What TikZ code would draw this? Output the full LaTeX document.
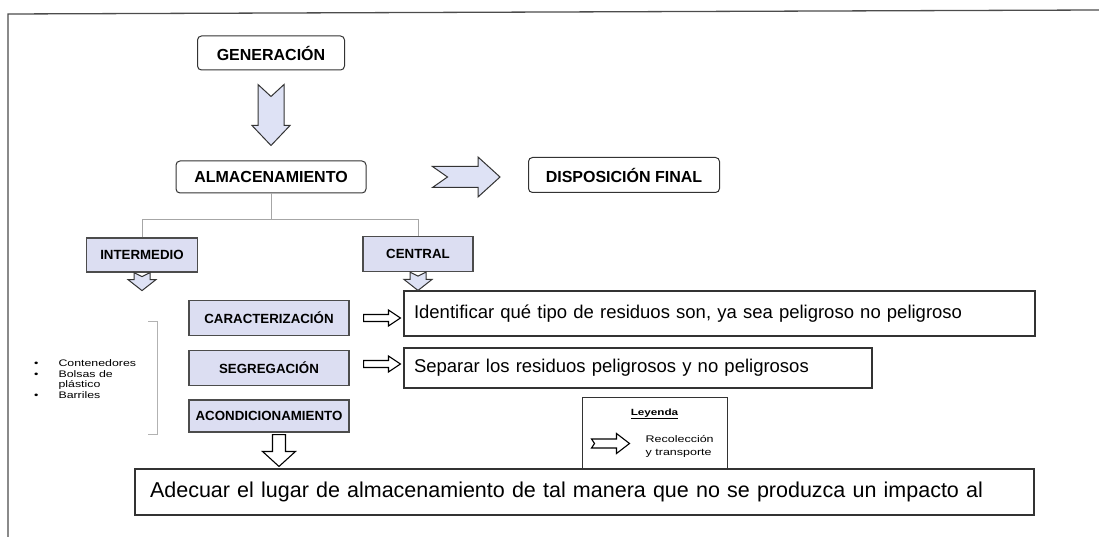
\documentclass[tikz,border=0pt]{standalone}
\usepackage{fontspec}
\setmainfont{Liberation Sans}
\newfontfamily\widesans[FakeStretch=1.3]{Liberation Sans}
\usetikzlibrary{calc}
\usetikzlibrary{positioning}

\definecolor{boxfill}{RGB}{220,222,242}
\definecolor{arrowfill}{RGB}{222,226,245}

% block arrow: style, from, to, shaft half width, head half width, head length, tail notch
\newcommand{\blockarrow}[7]{%
  \coordinate (ba-a) at #2;
  \coordinate (ba-b) at #3;
  \coordinate (ba-p) at ($(ba-b)!#6!(ba-a)$);
  \coordinate (ba-n) at ($(ba-a)!#7!(ba-b)$);
  \draw[#1] (ba-n) -- ($(ba-a)!#4!90:(ba-b)$) -- ($(ba-p)!#4!-90:(ba-a)$)
    -- ($(ba-p)!#5!-90:(ba-a)$) -- (ba-b) -- ($(ba-p)!#5!90:(ba-a)$)
    -- ($(ba-p)!#4!90:(ba-a)$) -- ($(ba-a)!#4!-90:(ba-b)$) -- cycle;
}

\begin{document}
\begin{tikzpicture}
	[x=1pt,y=-1pt,
	roundbox/.style={draw=black!80,line width=1pt,rounded corners=4pt,fill=white,inner sep=0pt,font=\fontsize{16}{19}\selectfont\bfseries},
	tagbox/.style={draw=black!70,line width=1.2pt,fill=boxfill,inner sep=0pt,font=\fontsize{13.3}{16}\selectfont\bfseries},
	notebox/.style={draw=black!80,line width=1.1pt,fill=white,inner xsep=10pt,inner ysep=0pt,align=left,font=\fontsize{18.5}{22}\selectfont},
	bigarrow/.style={draw=black!80,line width=1pt,fill=arrowfill,line join=miter},
	thinarrow/.style={draw=black,line width=1.1pt,fill=white,line join=miter},
	treeline/.style={draw=black!35,line width=0.8pt},
	frameline/.style={draw=black!70,line width=1.3pt},
	bracketline/.style={draw=black!30,line width=0.6pt},
	listtext/.style={inner sep=0pt,font=\widesans\fontsize{9.5}{10.5}\selectfont},
	legendtitle/.style={inner sep=0pt,font=\widesans\fontsize{9}{10}\selectfont\bfseries},
	legendtext/.style={inner sep=0pt,align=left,font=\widesans\fontsize{9.6}{13}\selectfont}]
	\useasboundingbox (0,0) rectangle (1099,537);
	\draw[frameline] (8,537) -- (8,14) -- (1099,10);
	
	\node[roundbox,minimum width=147pt,minimum height=34pt] (gen) at (271,53) {GENERACIÓN};
	\node[roundbox,minimum width=190pt,minimum height=32pt] (alm) at (271,177) {ALMACENAMIENTO};
	\node[roundbox,minimum width=191pt,minimum height=35pt] (disp) at (624,175) {DISPOSICIÓN FINAL};
	
	\node[tagbox,minimum width=111pt,minimum height=34pt] (inter) at (142,255) {INTERMEDIO};
	\node[tagbox,minimum width=110pt,minimum height=35pt] (central) at (418,254) {CENTRAL};
	\node[tagbox,minimum width=160pt,minimum height=35pt] (carac) at (269,318) {CARACTERIZACIÓN};
	\node[tagbox,minimum width=160pt,minimum height=35pt] (segre) at (269,368) {SEGREGACIÓN};
	\node[tagbox,minimum width=160pt,minimum height=32pt] (acond) at (269,416) {ACONDICIONAMIENTO};
	
	\node[notebox,text width=611pt,minimum height=45pt] (ident) at (719.5,313.5) {Identificar qué tipo de residuos son, ya sea peligroso no peligroso};
	\node[notebox,text width=448pt,minimum height=40pt] (separ) at (638,368) {Separar los residuos peligrosos y no peligrosos};
	
	% leyenda
	\node[draw=black!80,line width=1pt,fill=white,minimum width=145pt,minimum height=73pt] (legend) at (654.5,433.5) {};
	\node[legendtitle,below=12pt of legend.north] (legtitle) {\underline{Leyenda}};
	\node[legendtext,anchor=west] (legtext) at ($(legend.west)+(64,13)$) {Recolección\\y transporte};
	\blockarrow{thinarrow}{($(legend.west)+(10,10)$)}{($(legend.west)+(48,10)$)}{4.5pt}{10pt}{13pt}{3pt}
	
	\node[notebox,inner xsep=15pt,text width=869pt,minimum height=46pt,font=\fontsize{21.5}{25}\selectfont] (adec) at (584.5,492) {Adecuar el lugar de almacenamiento de tal manera que no se produzca un impacto al};
	
	\node[listtext,anchor=north west] (list) at (34,359) {%
		\begin{tabular}{@{}l@{\hspace{20pt}}l@{}}
			\textbullet & Contenedores\\
			\textbullet & Bolsas de\\
			& plástico\\
			\textbullet & Barriles
	\end{tabular}};
	\draw[bracketline] (148,321) -- (157,321) -- (157,434) -- (148,434);
	
	% flechas
	\blockarrow{bigarrow}{($(gen.south)+(0,14)$)}{($(alm.north)+(0,-15)$)}{13pt}{19pt}{20pt}{12pt}
	\blockarrow{bigarrow}{($(alm.east)+(66,0)$)}{($(alm.east -| disp.west)+(-28,0)$)}{10.5pt}{20pt}{22pt}{15pt}
	
	\coordinate (fork) at ($(alm.south)+(0,26)$);
	\draw[treeline] (alm.south) -- (fork);
	\draw[treeline] (inter.north) |- (fork) -| (central.north);
	
	\blockarrow{bigarrow}{(inter.south)}{($(inter.south)+(0,18)$)}{8pt}{14pt}{11pt}{4pt}
	\blockarrow{bigarrow}{(central.south)}{(central.south |- ident.north)}{8pt}{14pt}{11pt}{4pt}
	\blockarrow{thinarrow}{($(carac.east)+(14,0)$)}{($(carac.east -| ident.west)+(-3,0)$)}{3.5pt}{8pt}{12pt}{0pt}
	\blockarrow{thinarrow}{($(segre.east)+(14,-4)$)}{($(segre.east -| separ.west)+(-3,-4)$)}{3.5pt}{8pt}{12pt}{0pt}
	\blockarrow{thinarrow}{($(acond.south)+(10,2)$)}{($(acond.south |- adec.north)+(10,-2)$)}{6.5pt}{16.5pt}{15pt}{0pt}
\end{tikzpicture}
\end{document}
